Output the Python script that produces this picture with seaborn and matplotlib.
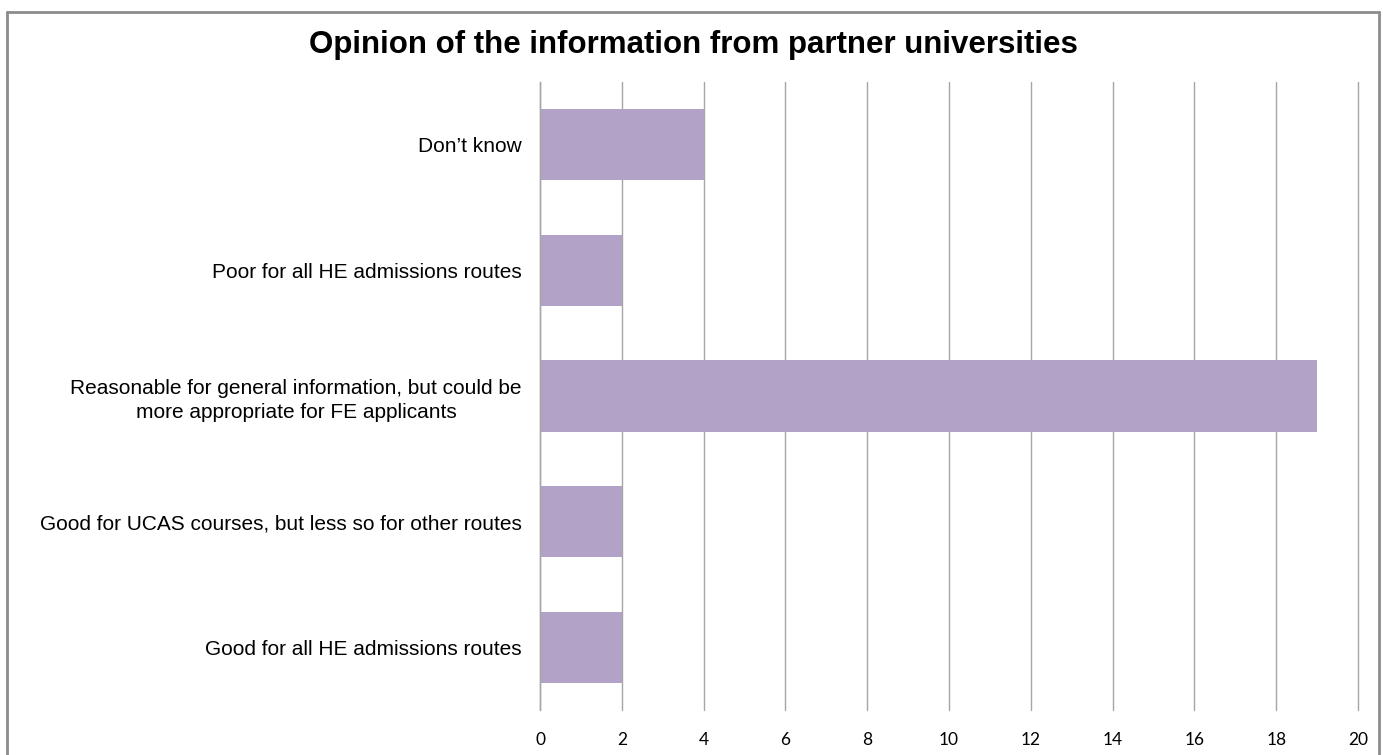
import matplotlib
matplotlib.use("Agg")
import matplotlib.pyplot as plt
from matplotlib.lines import Line2D
import seaborn as sns
import pandas as pd

# Survey responses: opinion of information from partner universities
categories = [
    "Don\u2019t know",
    "Poor for all HE admissions routes",
    "Reasonable for general information, but could be\nmore appropriate for FE applicants",
    "Good for UCAS courses, but less so for other routes",
    "Good for all HE admissions routes",
]
counts = [4, 2, 19, 2, 2]
x_ticks = [0, 2, 4, 6, 8, 10, 12, 14, 16, 18, 20]
title = "Opinion of the information from partner universities"

df = pd.DataFrame({"category": categories, "count": counts})

sns.set_theme(style="white")
plt.rcParams["font.family"] = ["Liberation Sans", "DejaVu Sans"]

W, H = 1383, 755
fig = plt.figure(figsize=(W / 100, H / 100), dpi=100)
fig.patch.set_facecolor("white")

# plot area in pixel terms
left, right, top, bottom = 540, 1358, 82, 710
ax = fig.add_axes([left / W, 1 - bottom / H, (right - left) / W, (bottom - top) / H])

sns.barplot(data=df, y="category", x="count", order=categories, orient="h",
            color="#B2A2C7", saturation=1, width=0.567, edgecolor="none", ax=ax)

ax.set_xlim(0, 20)
ax.set_ylim(len(categories) - 0.5, -0.5)
ax.set_xticks(x_ticks)
ax.set_xlabel("")
ax.set_ylabel("")

# vertical gridlines behind the bars
ax.set_axisbelow(True)
ax.xaxis.grid(True, color="#A6A6A6", linewidth=1.0)
for gl in ax.get_xgridlines():
    gl.set_clip_on(False)
ax.yaxis.grid(False)
for side in ["top", "right", "bottom"]:
    ax.spines[side].set_visible(False)
ax.spines["left"].set_color("#A6A6A6")
ax.spines["left"].set_linewidth(1.0)

ax.tick_params(axis="x", length=0, pad=16)
ax.tick_params(axis="y", length=0, pad=13)
for lab in ax.get_xticklabels():
    lab.set_fontfamily(["Lato", "DejaVu Sans"])
    lab.set_fontsize(12.5)
    lab.set_color("#000000")
for lab in ax.get_yticklabels():
    lab.set_fontsize(15)
    lab.set_color("#000000")
    lab.set_multialignment("center")
    lab.set_linespacing(1.3)

fig.text(693 / W, 1 - 45 / H, title, ha="center", va="center",
         fontsize=22.5, fontweight="bold", color="#000000")

# chart-area frame (open at the bottom edge)
frame_kw = dict(color="#8C8C8C", linewidth=2.0, transform=fig.transFigure)
x0, x1, y0 = 6.5 / W, 1378.5 / W, 1 - 11.5 / H
fig.add_artist(Line2D([x0, x0], [-0.05, y0], **frame_kw))
fig.add_artist(Line2D([x0, x1], [y0, y0], **frame_kw))
fig.add_artist(Line2D([x1, x1], [-0.05, y0], **frame_kw))

fig.savefig("out.png", dpi=100)
